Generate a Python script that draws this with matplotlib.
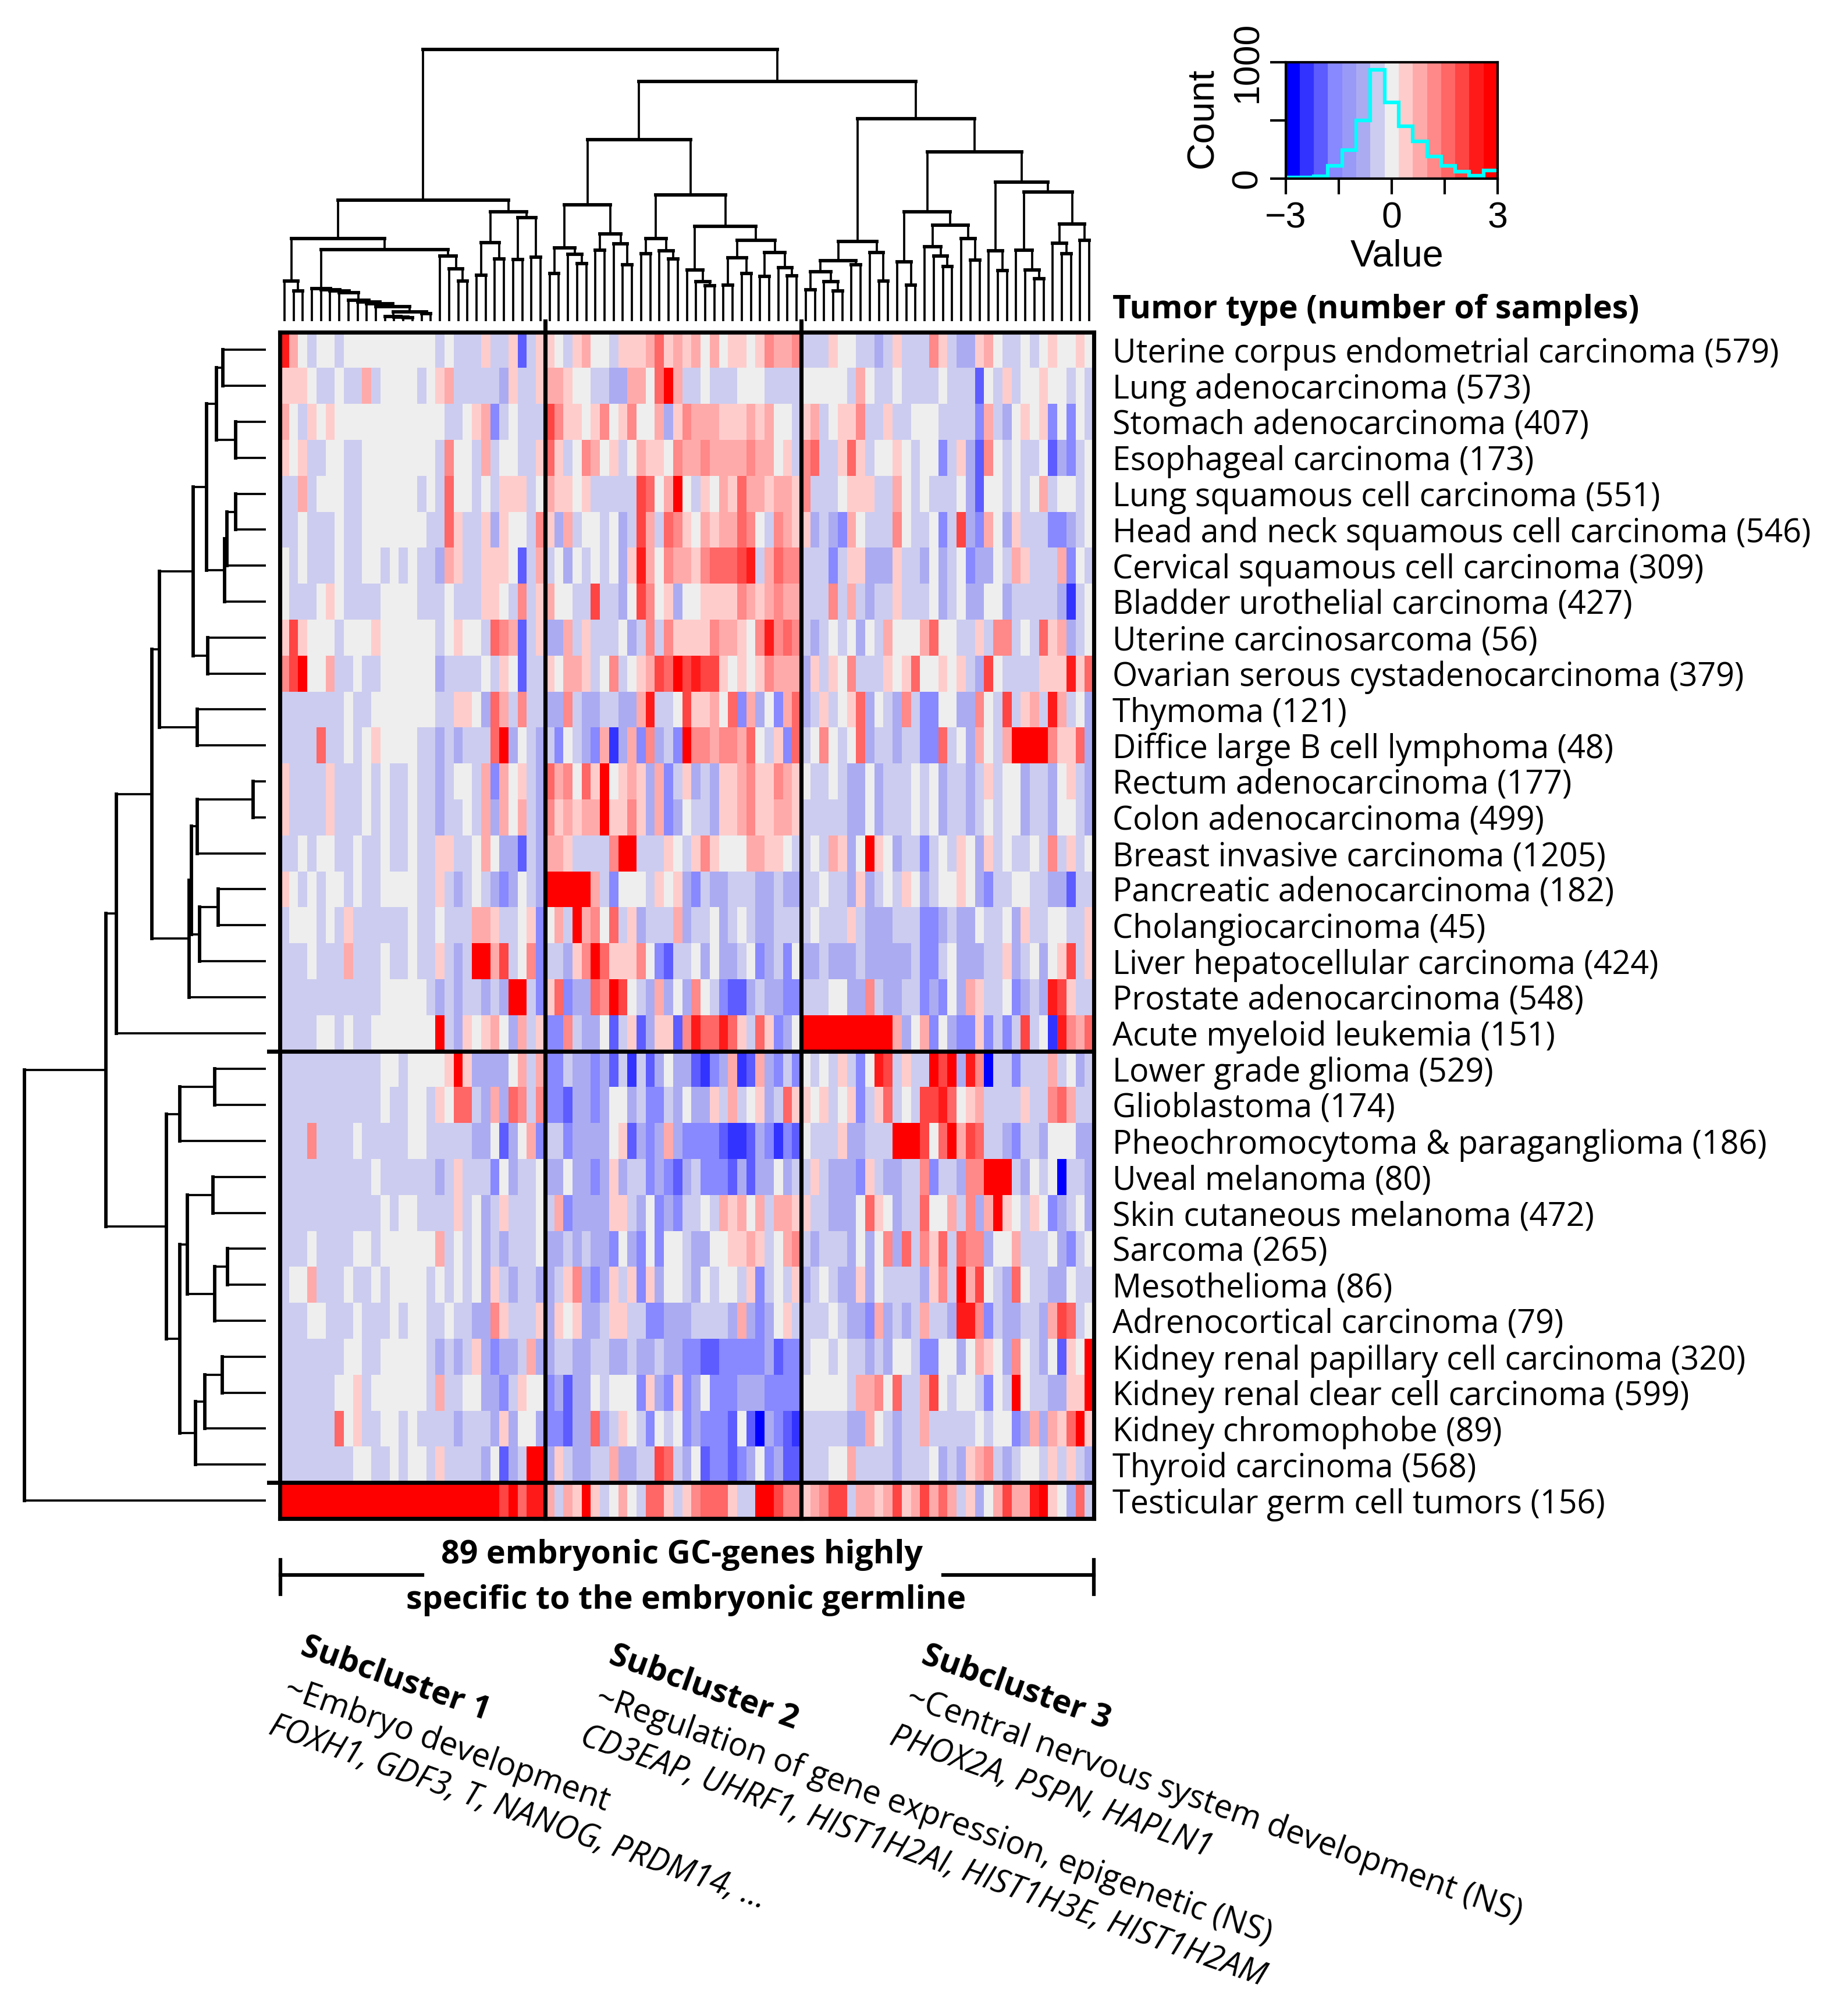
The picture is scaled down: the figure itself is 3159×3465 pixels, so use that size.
import numpy as np
import matplotlib
matplotlib.use("Agg")
import matplotlib.pyplot as plt
from matplotlib.collections import LineCollection
from matplotlib.colors import ListedColormap, BoundaryNorm

W, H = 3159, 3465
plt.rcParams['font.family'] = ['Open Sans', 'DejaVu Sans']

TUMORS = ["Uterine corpus endometrial carcinoma (579)", "Lung adenocarcinoma (573)",
          "Stomach adenocarcinoma (407)", "Esophageal carcinoma (173)",
          "Lung squamous cell carcinoma (551)", "Head and neck squamous cell carcinoma (546)",
          "Cervical squamous cell carcinoma (309)", "Bladder urothelial carcinoma (427)",
          "Uterine carcinosarcoma (56)", "Ovarian serous cystadenocarcinoma (379)",
          "Thymoma (121)", "Diffice large B cell lymphoma (48)", "Rectum adenocarcinoma (177)",
          "Colon adenocarcinoma (499)", "Breast invasive carcinoma (1205)",
          "Pancreatic adenocarcinoma (182)", "Cholangiocarcinoma (45)",
          "Liver hepatocellular carcinoma (424)", "Prostate adenocarcinoma (548)",
          "Acute myeloid leukemia (151)", "Lower grade glioma (529)", "Glioblastoma (174)",
          "Pheochromocytoma & paraganglioma (186)", "Uveal melanoma (80)",
          "Skin cutaneous melanoma (472)", "Sarcoma (265)", "Mesothelioma (86)",
          "Adrenocortical carcinoma (79)", "Kidney renal papillary cell carcinoma (320)",
          "Kidney renal clear cell carcinoma (599)", "Kidney chromophobe (89)",
          "Thyroid carcinoma (568)", "Testicular germ cell tumors (156)"]

# Cell levels: 0 = centre, 1..7 = red steps, a..f = blue steps
LEVELS = {'0': 0.0, '1': 0.4, '2': 0.8, '3': 1.2, '4': 1.6, '5': 2.0, '6': 2.4, '7': 2.8,
          'a': -0.4, 'b': -0.8, 'c': -1.6, 'd': -2.0, 'e': -2.4, 'f': -2.8}

SUB1 = ["620a00a0000000000a0aaa1aa1da1", "1110aa0aa2a0000a012aaaaab1aa1",
        "20a101000000000000aa012ca0aaa", "101aa00aa00000000a300a2a00aa1",
        "aa2a000aa000000a0a400a0a111a0", "aa0aaa0aa0000000aa41aa1b100a3",
        "0a0aaa0aa00a0a0aab21aa1110da2", "0aaa010aaaa0000aaa0aaa110a3a1",
        "151000a0001000000a0100a432da1", "357002aa0aa000000baaaa0a10daa",
        "aaaaaaa0aa0000000aa110b42a3aa", "aaaa4aa0a010000aababaaa47b0ab",
        "1aaaa1aaa0a0aa0aaba00a2c201ab", "1aaaa1aaa0a0aa0aabaa0a2b202ab",
        "aa0a00aa0aa0aa0aa11aa020bbdab", "10a0a00a0aa0000aa1aba0abcb0ab",
        "a000a0a1aaaaaa0aa0aaa221aa01c", "aaa0aaa2aaa0aa0aa1aba7725a03c",
        "aaaaaaaaaaa00000ababaabab77ac", "aaaa00a0aa00000007ab10120b2a1",
        "aaaaaaaaaaa00a0000171bbbb02a2", "aaaaaaaaaaa0aa00a1044ab2b43a3",
        "aaa3aaaa0aaaaa00aaaaabb0db02c", "aaaaaaaaaa0aaaaaaba1aaac0baa0",
        "aaaaaaaaaaa0a00aaaa1a0ba1aaa0", "aaa0aaaa00a0000002a0a0babaaa0",
        "a002aaa0aa0a0000a0a0a0b1abaab", "aaa00aaa0aaa0a00aa0aabb31aaa1",
        "aaaaaaa00aa00000ababa1bcbba2b", "aaaaaa001a000000a2aa00bbca100",
        "aaaaaa401aa00a0aaaabaaab1b00b", "aaaaaaaa00aa0a00a1aaaab0dba77",
        "777777777777777777777777 5 7 4 6 6"]

SUB2 = ["1 0 a 1 2 00 a 111 2 4 1 2 1 2 0 2 0 11 0 1 3 22 3",
        "22 1 00 aa bb 22 0 4 7 2 aa 0 aaa 000 aaaa",
        "5 3 11 0 1 3 0 1 3 00 2 b 1 3 222 111 2 1 2 00 a",
        "4 1 a 0 3 2 0 1 a 0 2 11 0 3 22 3 2222 3 22 0 1 a",
        "2 11 0 1 aaaaa 5 4 0 2 7 0 a 1 0 2 1 4 22 1 22 1",
        "1 b 2 a 00 a 0 b a 5 2 a 4 3 1 0 2 1 22 4 3 0 a 3 2 1",
        "a 0 b 0 a 0 a 0 b 1 6 2 0 3 22 1 3 444 5 6 a 2 4 33",
        "2 00 aa 5 aa b 0 5 3 0 1 b 00 1111 3 2 1 2 3 22",
        "bb 2 a 1 aaa 0 b a 3 a 3 1111 3 22 1 0 3 6 3 4 3",
        "1 0 22 1 a 0 3 a 0 1 2 5 4 7 5 6 55 1 0 1 0 1 3 222",
        "bb 3 a bb aa bb 2 6 aa 0 5 11 2 0 4 c 2 b 0 c 2 4",
        "a c 0 a b c 2 e b 2 c 3 b a c 7 33 2 33 2 4 0 a 1 c 4",
        "4 2 3 0 4 1 7 0 1 2 1 b 2 c a 1 b a b 11 2 3 11 3 2 1",
        "3 1 2 1 22 7 11 3 1 b 2 c b 0 aa b 11 2 3 11 2 2 1",
        "22 1 aaaa 3 77 aaa 1 0 a 1 3 1 000 22 11 0 a",
        "77777 2 a c 000 a 1 0 1 b c a bb aaa bb a bb",
        "0 2 a 7 2 3 0 4 a 1 b aaa 2 b aa 0 b a 0 a bb aaa",
        "aa b 1 3 7 4 111 3 0 c d aa 0 b 0 bb a 0 c b a c 0",
        "1 4 c bb 4 3 7 5 0 a b 2 b 0 b 3 0 a c d d b a bb cc",
        "cc 3 a bb 0 d a 1 d b 11 d 3 6 44 6 4 1 a 4 1 c b 0",
        "cc a bb c b d a e a d b 0 bb d e c b 2 e d 2 b c a c",
        "cc d bb c b 00 b a cc a b 0 bb 1 a 2 a 0 1 b a 4 1",
        "a a c bbbb 0 1 d b c b 2 b cccc d ee d b c e c d",
        "bb 0 bb c b 1 b aa c b c d b a ccc d b d bb 0 b a",
        "a 2 c bbbb 11 a b 0 c b c aa 0 a 2 1 2 0 2 a 22 1",
        "bb a b a bb c 0 b c 0 c 00 a bb 00 11 2 1 a 0 2 3",
        "b a 1 3 b c b 1 a 1 c 1 b 00 a b 0 a 00 a 1 c a 0 a 1",
        "b 1 0 1 bb a 11 aa cc bbb aaaa b 2 b c b 0 1 a",
        "b aa bb aa bb a bb a bb cc dd ccccc b d cc",
        "c b d bb 0 a 000 c 1 b c 1 c b 0 ccc bbb cccc",
        "cc d bb 4 b a 1 0 a c 0 a 0 c b ccc d 0 d f b c d e",
        "b 1 a bb aa 2 bb aa 5 4 a b 0 d cc d c b 0 c b dd",
        "2 a 2 1 7 1 a 0 2 0 a 44 1 a 1 3 444 1 aa 77 5 33"]

SUB3 = ["aaa 1 00 aa b a 1 aaa 3 1 a bb 1 2 0 aa 0 a 0 1 00 1 0",
        "00000 a 2 0 aa 0 aaaa 0 aaa d 0 a 1 a 00 1 00 a 0 a",
        "1 2 a 0 11 3 aa 1 aa 000 aaaa c 2 a b 0 1 0 1 c 0 c 0 a",
        "3 4 aa 1 4 1 a 00 1 0 a 00 c a 1 b d 3 0 a 0 aa 0 d b c a 0",
        "3 aaa 0 111 aa 2 0 a 0 aaa 0 b d 00 a 0 a 0 2 a 00 a 0",
        "1 b a b c 2 0 aaa 3 0 aa 0 c a 5 b c 2 0 b 1 aaa cc b a 0",
        "aaa c a 11 bbb 1 aa b 0 b a 0 c bb 0 a 2 1 aaa 2 c 0 a",
        "aaa 3 a 2 a b aa 1 aaa 0 b a 0 bb 00 b aaaaa b e a 0",
        "a b a 0 a 0 b 0 a 2 000 2 4 00 aa 1 a 33 a 0 a 4 1 2 b a 0",
        "b 1 a 1 0 3 aaa 1 0 1 4 00 1 0 1 a b 5 0 aaaa 111 6 1 4",
        "b a 1 a 0 1 4 b 0 a b 3 a cc 00 bb 3 0 a 5 a 1 2 a 6 2 a 0 b",
        "a 0 3 0 a 0 4 b aa b aa cc 4 a 0 b 2 0 a 2 7777 3 11 4 b",
        "0 aa 0 a bb 0 b aaa 0 a 0 b aa b a 1 a 00 b aa b 0 1 a b",
        "aaaaa bb 0 b aaa 0 a 0 b aa b a 0 a 00 b aa b 00 a b",
        "a 0 a 2 1 b 0 7 1 0 b aa c a 0 a 1 0 b 1 a 0 aa 0 a 3 a 1 a 0",
        "aa 0 aa b 1 b a 0 a 1 0 b a 00 1 0 b c aa 00 aa bb d aa",
        "a 0 aaa 1 a bbb aaa cc b a bb 0 aa 0 b 1 aa 00 a a 1",
        "bb a bbb a bbbbb a cc a 0 bbb aa 1 b a 0 b 0 1 5 a 1",
        "aaa 00 bb 3 a bb aa c b c 0 b 2 1 aa 0 c b a b 6 5 1 aa",
        "7777777777 2 b 0 2 c 0 b cc 1 c a c a 5 a 0 e 6 3 2 4",
        "0 a 0 a 1 a c 0 6 5 a 1 aa 7 5 7 b 6 3 f aa c aaa 2 a 0 b a",
        "1 0 1 a 0 1 c a 1 4 a 0 a 55 6 4 0 1 2 aaaa 1 aa 3 4 2 aa",
        "0 aaa 1 bb aaa 777 5 0 4 7 2 5 4 aa b c aa b 000 bb",
        "a 1 a bbb c 1 a bb aa 3 c aa b 33 777 a b 0 a 0 f aa b",
        "1 aa bbb 0 4 1 0 b aa 4 00 2 a 3 b 2 7 1 0 a 1 0 c b a 0 b",
        "a b aaa b 0 b 0 3 b 4 a 3 1 4 a 4 33 b 00 2 aaa 0 b c a 0",
        "b a 0 a bb 1 b 0 aaaa b 1 3 a 7 2 5 0 a b 4 0 aa bb 0 aa",
        "aaa 0 a bb c 2 b a b a 2 aa b 66 3 c a bb aa b 2 5 4 a 0",
        "a 00 a 0 aa b a b 00 a cc 00 b 0 2 1 0 b 3 0 a b 0 d 1 0 7",
        "00000 a 22 3 0 4 aa 2 5 0 a 00 a c 0 a 7 0 aa bb 11 7",
        "aaaaa bb 2 0 a b aa 2 aaaaa 0 a 00 c b 2 b 2 1 4 7 1",
        "aaa 00 2 aaaa b aaa 0 b a b 1 2 3 a b a 00 a 1 a 1 a b",
        "1 2 3 55 a 22 1 2 5 1 2 5 2 4 2 a 1 b 0 2 5 22 6 7 1 0 b 4 a"]

KEY_COLORS = ['#0000FF', '#3333FF', '#5C5CFF', '#8888FF', '#9999F8', '#ABABF2', '#CCCCF0', '#EEEEEE',
              '#FFCCCC', '#FFAAAA', '#FF8888', '#FF6666', '#FF4444', '#FF1A1A', '#FF0000']
HIST_COUNTS = [8, 8, 20, 108, 245, 500, 933, 655, 450, 320, 188, 108, 58, 25, 70]

# Dendrograms: (height, left, right); L is a leaf. Heights in pixels above the leaves.
L = None
TREE_SUB1 = (208,
             (142, (69, L, (52, L, L)),
              (123, (56, L, (54, L, (52, L, (49, L, (36, L, (33, L, (30, L, (25, L,
                    (16, (8, L, (7, L, (6, L, L))), (13, L, L)))))))))),
               (112, L, (90, L, (69, L, L))))),
             (188, (135, (79, L, L), (107, L, L)), (178, (106, L, L), (110, L, L))))
TREE_SUB2 = (312,
             (200, (126, (82, L, L), (115, L, (99, L, L))), (150, (122, L, L), (133, L, (97, L, L)))),
             (217, (142, (116, L, L), (121, L, (107, L, L))),
              (163, (88, L, (68, L, (61, L, L))),
               (139, (109, (62, L, L), (82, L, L)), (118, (77, L, L), (92, L, (78, L, L)))))))
TREE_SUB3A = (137, (104, (85, (54, L, L), (68, L, (52, L, L))), (97, L, L)), (118, L, (69, L, L)))
TREE_SUB3B = (291,
              (188, (102, L, (62, L, L)),
               (165, (128, L, (112, L, (94, L, L))), (142, L, (105, L, L)))),
              (239, (121, L, (87, L, L)),
               (222, (122, L, (88, L, (73, L, L))),
                (167, (134, L, (116, L, L)), (139, L, L)))))
COL_TREE = (467, TREE_SUB1, (412, TREE_SUB2, (348, TREE_SUB3A, TREE_SUB3B)))
ROW_TREE = (415,
            (275,
             (257,
              (196,
               (183,
                (125,
                 (102, (85, (74, L, L), (52, L, L)), (71, (67, (52, L, L), L), L)),
                 (100, L, L)),
                (118, L, L)),
               (132, (128, (118, (22, L, L), L), (114, (82, L, L), L)), L)),
              L),
             (171, (148, (88, L, L), L),
              (148, (135, (91, L, L), (88, (66, L, L), L)), (121, (105, (75, L, L), L), L)))),
            L)

COL_BREAKS = [29, 57]
ROW_BREAKS = [20, 32]


def px_axes(x0, y0, x1, y1, **kw):
    return fig.add_axes([x0 / W, 1 - y1 / H, (x1 - x0) / W, (y1 - y0) / H], **kw)


def px_text(x, y, s, **kw):
    return fig.text(x / W, 1 - y / H, s, **kw)


def walk(node, counter, bars, stems):
    """Return (position, height); collect the merge bars and stems of a tree."""
    if node is None:
        counter[0] += 1
        return counter[0] - 0.5, 0
    h, a, b = node
    pa, ha = walk(a, counter, bars, stems)
    pb, hb = walk(b, counter, bars, stems)
    bars.append(((pa, h), (pb, h)))
    stems.append(((pa, ha), (pa, h)))
    stems.append(((pb, hb), (pb, h)))
    return (pa + pb) / 2, h


rows = [(a + b + c).replace(' ', '') for a, b, c in zip(SUB1, SUB2, SUB3)]
assert all(len(r) == 89 for r in rows), [len(r) for r in rows]
values = np.array([[LEVELS[ch] for ch in r] for r in rows])

fig = plt.figure(figsize=(W / 300, H / 300), dpi=300, facecolor='white')
cmap = ListedColormap(KEY_COLORS)
edges = np.linspace(-3, 3, 16)
norm = BoundaryNorm(edges, cmap.N)

HX0, HX1, HY0, HY1 = 481, 1880, 570.5, 2610
ax = px_axes(HX0, HY0, HX1, HY1)
ax.pcolormesh(np.arange(90), np.arange(34), values, cmap=cmap, norm=norm, edgecolors='none')
ax.set_xlim(0, 89)
ax.set_ylim(33, 0)
ax.axis('off')
FRAME = 1.7
for c in [0] + COL_BREAKS + [89]:
    ax.plot([c, c], [-0.3 if c in COL_BREAKS else 0, 33], color='black', lw=FRAME, clip_on=False,
            solid_capstyle='projecting')
for r in [0] + ROW_BREAKS + [33]:
    x_left = -1.2 if r in ROW_BREAKS else 0
    ax.plot([x_left, 89], [r, r], color='black', lw=FRAME, clip_on=False, solid_capstyle='projecting')

# column dendrogram
tx = px_axes(HX0, 60, HX1, 551.7)
bars, stems = [], []
walk(COL_TREE, [0], bars, stems)
tx.add_collection(LineCollection(bars, colors='black', linewidths=1.4, capstyle='projecting'))
tx.add_collection(LineCollection(stems, colors='black', linewidths=0.9))
tx.set_xlim(0, 89)
tx.set_ylim(0, 551.7 - 60)
tx.axis('off')

# row dendrogram
lx = px_axes(20, HY0, 457, HY1)
bars, stems = [], []
walk(ROW_TREE, [0], bars, stems)
flip = lambda segs: [((s[0][1], s[0][0]), (s[1][1], s[1][0])) for s in segs]
lx.add_collection(LineCollection(flip(bars), colors='black', linewidths=1.4, capstyle='projecting'))
lx.add_collection(LineCollection(flip(stems), colors='black', linewidths=0.9))
lx.set_xlim(437, 0)
lx.set_ylim(33, 0)
lx.axis('off')

# row labels
LABEL_SIZE = 13.35
ROW_H = (HY1 - HY0) / 33
for i, name in enumerate(TUMORS):
    px_text(1912, HY0 + ROW_H * (i + 0.5) + 7, name, ha='left', va='center', fontsize=LABEL_SIZE, color='black')
px_text(1912, 533, "Tumor type (number of samples)", ha='left', va='center',
        fontsize=LABEL_SIZE, fontweight='bold')

# bracket under the heat map
px_text(1172, 2673, "89 embryonic GC-genes highly", ha='center', va='center',
        fontsize=LABEL_SIZE, fontweight='bold')
px_text(1179, 2750, "specific to the embryonic germline", ha='center', va='center',
        fontsize=LABEL_SIZE, fontweight='bold')
ov = px_axes(0, 0, W, H)
ov.set_xlim(0, W)
ov.set_ylim(H, 0)
ov.axis('off')
ov.patch.set_alpha(0)
for seg in [((482, 726), (2707, 2707)), ((1621, 1880), (2707, 2707)),
            ((482, 482), (2681, 2740)), ((1880, 1880), (2681, 2740))]:
    ov.plot(seg[0], seg[1], color='black', lw=1.5)

# rotated subcluster notes
ROT = -19.5
NOTES = [(236, 1280, "Subcluster 1", 'bold', 'normal'),
         (223, 1313, "~Embryo development", 'normal', 'normal'),
         (211, 1342, "FOXH1, GDF3, T, NANOG, PRDM14, ...", 'normal', 'italic'),
         (477, 1287, "Subcluster 2", 'bold', 'normal'),
         (466, 1320, "~Regulation of gene expression, epigenetic (NS)", 'normal', 'normal'),
         (454, 1350, "CD3EAP, UHRF1, HIST1H2AI, HIST1H3E, HIST1H2AM", 'normal', 'italic'),
         (721, 1287, "Subcluster 3", 'bold', 'normal'),
         (709, 1320, "~Central nervous system development (NS)", 'normal', 'normal'),
         (696, 1350, "PHOX2A, PSPN, HAPLN1", 'normal', 'italic')]
for nx, ny, s, weight, style in NOTES:
    px_text(nx * 2.2, ny * 2.21, s, rotation=ROT, rotation_mode='anchor', ha='left', va='center',
            fontsize=LABEL_SIZE, fontweight=weight, fontstyle=style)

# colour key
kx = px_axes(2209.6, 107, 2574, 307)
kx.pcolormesh(edges, [0, 1000], ((edges[:-1] + edges[1:]) / 2)[None, :], cmap=cmap, norm=norm)
kx.stairs(HIST_COUNTS, edges, color='#00FFFF', lw=1.5, baseline=None)
kx.set_xlim(-3, 3)
kx.set_ylim(0, 1000)
kx.set_xticks([-3, -1.5, 0, 1.5, 3])
kx.set_xticklabels(['\u22123', '', '0', '', '3'], family='Liberation Sans', fontsize=15)
kx.set_yticks([0, 500, 1000])
kx.set_yticklabels(['0', '', '1000'], family='Liberation Sans', fontsize=15, rotation=90, va='center')
kx.tick_params(axis='x', length=6.5, width=1, pad=2.8)
kx.tick_params(axis='y', length=6.5, width=1, pad=2.2)
for sp in kx.spines.values():
    sp.set_linewidth(1)
px_text(2067, 203, "Count", rotation=90, ha='center', va='center', fontsize=15.5, family='Liberation Sans')
px_text(2401, 440, "Value", ha='center', va='center', fontsize=15.5, family='Liberation Sans')

fig.savefig('out.png', dpi=300, facecolor='white')
